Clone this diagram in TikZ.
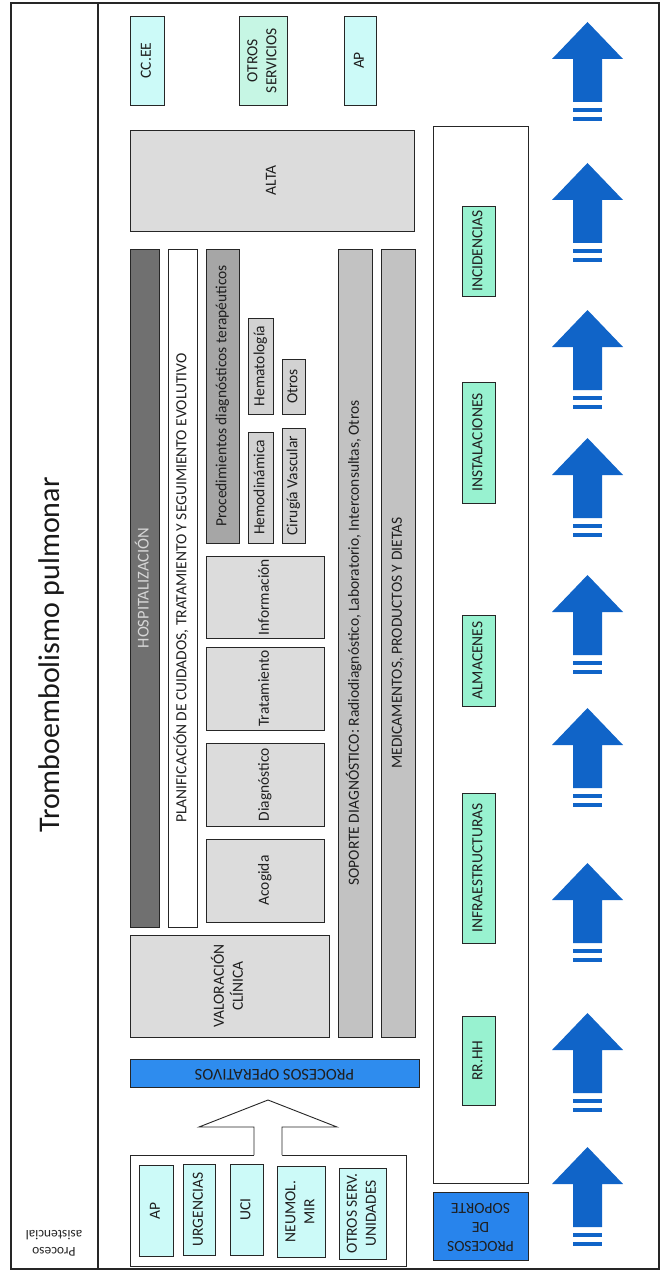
\documentclass[tikz,border=0pt]{standalone}
\usepackage{fontspec}
\setmainfont{Carlito}
\usepackage{graphicx}
\usetikzlibrary{calc}

\definecolor{arrowblue}{RGB}{16,100,200}
\definecolor{opblue}{RGB}{46,140,238}
\definecolor{supblue}{RGB}{40,132,236}
\definecolor{cyanfill}{RGB}{204,250,248}
\definecolor{mintfill}{RGB}{198,246,228}
\definecolor{greenfill}{RGB}{152,242,208}
\definecolor{hospgray}{RGB}{112,112,112}
\definecolor{hosptext}{RGB}{214,214,214}
\definecolor{procgray}{RGB}{166,166,166}
\definecolor{bargray}{RGB}{194,194,194}
\definecolor{lightgray}{RGB}{220,220,220}
\definecolor{smallgray}{RGB}{210,210,210}
\definecolor{edge}{RGB}{38,38,38}

% rotated text (reading upwards) and upside-down text
\newcommand{\vtxt}[1]{\rotatebox{90}{\begin{tabular}{@{}c@{}}#1\end{tabular}}}
\newcommand{\ftxt}[1]{\rotatebox{180}{\begin{tabular}{@{}c@{}}#1\end{tabular}}}

% \rbox{name}{style}{x1}{y1}{x2}{y2}{content}
\newcommand{\rbox}[7]{%
  \node[#2, minimum width={(#5)-(#3)}, minimum height={(#6)-(#4)}]
    (#1) at ({((#3)+(#5))/2},{((#4)+(#6))/2}) {#7};}

\tikzset{
  txt/.style={font=\fontsize{15.5}{19}\selectfont, text=black!88},
  pbox/.style={txt, draw=edge, line width=0.9pt, inner sep=0pt, outer sep=0pt},
  cyanbox/.style={pbox, fill=cyanfill},
  mintbox/.style={pbox, fill=mintfill},
  greenbox/.style={pbox, fill=greenfill},
  graybox/.style={pbox, fill=lightgray},
  smallbox/.style={pbox, fill=smallgray},
  barbox/.style={pbox, fill=bargray},
  whitebox/.style={pbox, fill=white},
  bluebar/.style={pbox, fill=opblue, font=\fontsize{16.5}{19}\selectfont},
  bluearrow/.pic={
    \fill[arrowblue] (0,0) -- (35.5,37) -- (14.5,37) -- (14.5,80)
      -- (-14.5,80) -- (-14.5,37) -- (-35.5,37) -- cycle;
    \fill[arrowblue] (-14.5,86) rectangle (14.5,90);
    \fill[arrowblue] (-14.5,95) rectangle (14.5,99);
  }
}

\begin{document}
\begin{tikzpicture}[x=1pt,y=-1pt]
\useasboundingbox (0,0) rectangle (661,1273);
\fill[white] (0,0) rectangle (661,1273);

% outer frame and title column
\draw[edge, line width=1.1pt] (11,3) rectangle (659,1269);
\draw[edge, line width=1.1pt] (98,3) -- (98,1269);
\node[font=\fontsize{30}{34}\selectfont, rotate=90, text=black!90] (title) at (52,655) {Tromboembolismo pulmonar};
\node[font=\fontsize{13.5}{17}\selectfont, rotate=180, align=center, text=black!85] (tipo) at (54,1243.5) {Proceso\\asistencial};

% discharge destinations
\rbox{ccee}{cyanbox}{130}{16}{164}{105}{\vtxt{CC.EE}}
\rbox{otrosserv}{mintbox}{239}{16}{287}{105}{\vtxt{OTROS\\SERVICIOS}}
\rbox{aptop}{cyanbox}{344}{16}{376}{105}{\vtxt{AP}}
\rbox{alta}{graybox}{130}{130}{414}{231}{\vtxt{ALTA}}

% hospital stay
\rbox{hosp}{pbox, fill=hospgray, text=hosptext, font=\fontsize{16.5}{20}\selectfont}{130}{249}{159}{927}{\vtxt{HOSPITALIZACIÓN}}
\rbox{plan}{whitebox}{168}{249}{197}{927}{\vtxt{PLANIFICACIÓN DE CUIDADOS, TRATAMIENTO Y SEGUIMIENTO EVOLUTIVO}}
\rbox{proced}{pbox, fill=procgray}{206}{249}{239}{543}{\vtxt{Procedimientos diagnósticos terapéuticos}}
\rbox{hema}{smallbox}{248}{318}{273}{414}{\vtxt{Hematología}}
\rbox{hemo}{smallbox}{248}{432}{273}{543}{\vtxt{Hemodinámica}}
\rbox{otros}{smallbox}{282}{359}{305}{414}{\vtxt{Otros}}
\rbox{cirugia}{smallbox}{282}{428}{305}{543}{\vtxt{Cirugía Vascular}}
\rbox{info}{graybox}{206}{556}{324}{638}{\vtxt{Información}}
\rbox{trat}{graybox}{206}{647}{324}{730}{\vtxt{Tratamiento}}
\rbox{diag}{graybox}{206}{743}{324}{826}{\vtxt{Diagnóstico}}
\rbox{acog}{graybox}{206}{839}{324}{922}{\vtxt{Acogida}}
\rbox{valor}{graybox}{130}{935}{329}{1037}{\vtxt{VALORACIÓN\\CLÍNICA}}
\rbox{sopdiag}{barbox}{338}{249}{372}{1037}{\vtxt{SOPORTE DIAGNÓSTICO: Radiodiagnóstico, Laboratorio, Interconsultas, Otros}}
\rbox{medic}{barbox}{381}{249}{415}{1037}{\vtxt{MEDICAMENTOS, PRODUCTOS Y DIETAS}}
\rbox{procop}{bluebar}{130}{1059}{419}{1087}{\ftxt{PROCESOS OPERATIVOS}}

% entry points
\rbox{entrada}{whitebox}{130}{1155}{406}{1266}{}
\rbox{apin}{cyanbox}{139}{1165}{173}{1256}{\vtxt{AP}}
\rbox{urg}{cyanbox}{183}{1164}{215}{1255}{\vtxt{URGENCIAS}}
\rbox{uci}{cyanbox}{230}{1164}{263}{1255}{\vtxt{UCI}}
\rbox{neumol}{cyanbox}{277}{1166}{325}{1257}{\vtxt{NEUMOL.\\MIR}}
\rbox{otserv}{cyanbox}{339}{1168}{386}{1259}{\vtxt{OTROS SERV.\\UNIDADES}}

% hollow arrow from the entry points towards the operative processes
\coordinate (ha) at (entrada.north);
\fill[white] ($(ha)+(-14,1.5)$) -- ($(ha)+(-14,-28)$) -- ($(ha)+(-69,-28)$) -- ($(ha)+(0,-55)$)
  -- ($(ha)+(69,-28)$) -- ($(ha)+(14,-28)$) -- ($(ha)+(14,1.5)$) -- cycle;
\draw[edge, line width=0.9pt, line join=miter] ($(ha)+(-14,0)$) -- ($(ha)+(-14,-28)$) -- ($(ha)+(-69,-28)$) -- ($(ha)+(0,-55)$)
  -- ($(ha)+(69,-28)$) -- ($(ha)+(14,-28)$) -- ($(ha)+(14,0)$);

% support processes
\rbox{soporte}{whitebox}{433}{126}{528}{1183}{}
\rbox{incid}{greenbox}{462}{206}{495}{296}{\vtxt{INCIDENCIAS}}
\rbox{instal}{greenbox}{462}{382}{495}{503}{\vtxt{INSTALACIONES}}
\rbox{almac}{greenbox}{462}{615}{495}{706}{\vtxt{ALMACENES}}
\rbox{infra}{greenbox}{462}{793}{495}{943}{\vtxt{INFRAESTRUCTURAS}}
\rbox{rrhh}{greenbox}{462}{1016}{495}{1105}{\vtxt{RR.HH}}
\rbox{procsop}{pbox, fill=supblue}{433}{1192}{528}{1260}{\ftxt{PROCESOS\\DE\\SOPORTE}}

% upward flow arrows
\foreach \t [count=\i] in {22,163,310,438,575,708,863,1013,1147}
  \pic (flow\i) at (587.5,\t) {bluearrow};
\end{tikzpicture}
\end{document}
